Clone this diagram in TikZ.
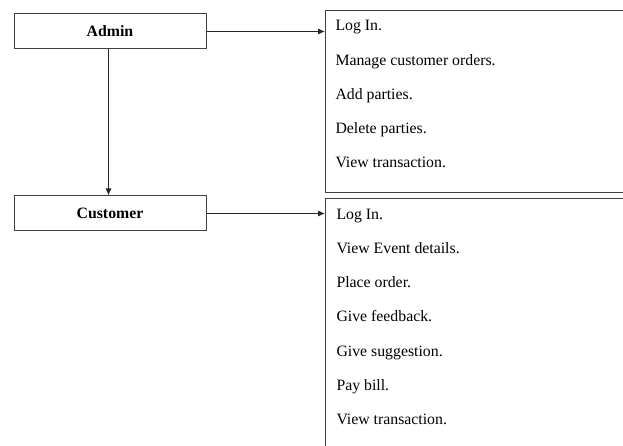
\documentclass[tikz,border=0pt]{standalone}
\usepackage{fontspec}
\setmainfont{Liberation Serif}
\usepackage{tikz}
\usetikzlibrary{arrows.meta}

\begin{document}
\begin{tikzpicture}[x=1pt,y=-1pt,
    line width=1pt,
    every node/.style={font=\fontsize{15.8}{18}\selectfont},
    role/.style={draw=black!75, minimum width=192pt, minimum height=35pt, inner sep=0pt, font=\fontsize{15.8}{18}\selectfont\bfseries},
    duties/.style={draw=black!75, anchor=north west, minimum width=330pt, inner sep=0pt},
    duty/.style={anchor=base west, inner sep=0pt},
    link/.style={draw=black!85, -{Latex[length=7pt,width=6pt]}}]

\useasboundingbox (0,0) rectangle (623,446);
\clip (0,0) rectangle (623,446);

\node [role] (admin) at (110,31.5) {Admin};
\node [role] (customer) at (110,213.5) {Customer};

\node [duties, minimum height=182pt] (adminlist) at (325,10) {};
\node [duties, minimum height=300pt] (customerlist) at (325,198) {};

\foreach \txt [count=\i] in {Log In., Manage customer orders., Add parties., Delete parties., View transaction.}{
    \node [duty] (adminduty\i) at (335,{31+34.1*(\i-1)}) {\txt};
}
\foreach \txt [count=\i] in {Log In., View Event details., Place order., Give feedback., Give suggestion., Pay bill., View transaction.}{
    \node [duty] (customerduty\i) at (336,{219.5+34.15*(\i-1)}) {\txt};
}

\draw [link] (admin.east) -- (admin.east -| adminlist.west); % Admin to its list
\draw [link] (customer.east) -- (customer.east -| customerlist.west); % Customer to its list
\draw [link] ([xshift=-1.5pt]admin.south) -- ([xshift=-1.5pt]customer.north);

\end{tikzpicture}
\end{document}
